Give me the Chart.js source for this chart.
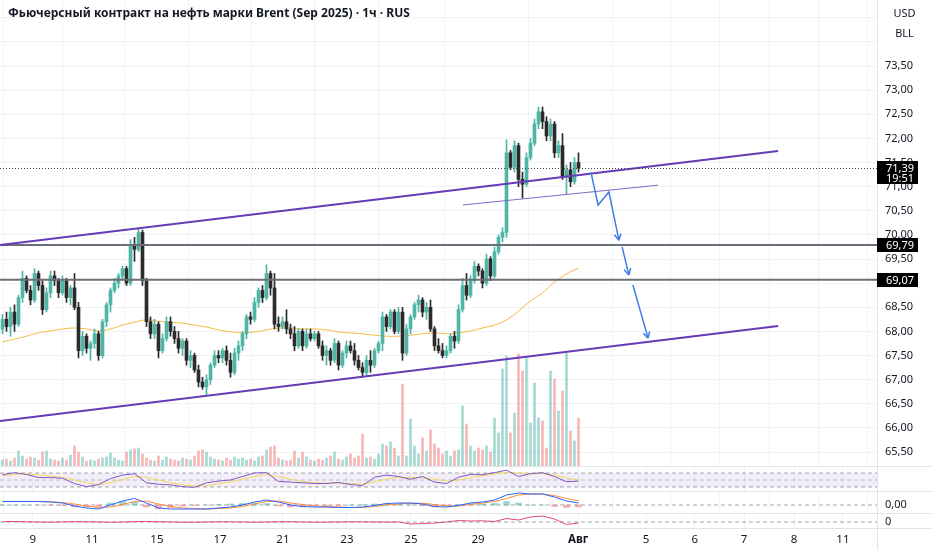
<!DOCTYPE html>
<html>
<head>
<meta charset="utf-8">
<script src="https://cdn.jsdelivr.net/npm/chart.js@4.4.1/dist/chart.umd.min.js"></script>
<style>
  body { margin: 0; background: #fff; font-family: 'Noto Sans', sans-serif; }
  #wrap { position: relative; width: 932px; height: 550px; overflow: hidden; }
  canvas { display: block; }
  .title { position: absolute; left: 8px; top: 4px; font-weight: bold; font-size: 12px; color: #131722; white-space: nowrap; }
  .cur { position: absolute; left: 877px; width: 55px; text-align: center; font-size: 11px; color: #131722; }
</style>
</head>
<body>
<div id="wrap">
  <canvas id="main" width="932" height="466"></canvas>
  <canvas id="rsi" width="932" height="25"></canvas>
  <canvas id="macd" width="932" height="22"></canvas>
  <canvas id="bottom" width="932" height="37"></canvas>
  <div class="title">Фьючерсный контракт на нефть марки Brent (Sep 2025) · 1ч · RUS</div>
  <div class="cur" style="top:5px">USD</div>
  <div class="cur" style="top:25px">BLL</div>
</div>
<script>
// свечи (по одной на бар, индекс 0..144)
const opens = [
  68.05, 68.25, 68.1, 68.4, 68.15, 68.7, 69.1, 68.85, 68.65, 69.2,
  68.95, 68.45, 68.8, 69.15, 69.05, 68.8, 69.05, 68.7, 68.9, 68.5,
  67.6, 67.9, 67.65, 67.75, 67.95, 67.5, 68.2, 68.55, 68.85, 69.0,
  69.15, 69.3, 69.0, 69.8, 69.7, 70.05, 69.05, 68.2, 67.95, 68.15,
  67.6, 67.85, 68.2, 68.0, 67.85, 67.65, 67.8, 67.4, 67.5, 67.2,
  66.95, 66.85, 67.0, 67.3, 67.5, 67.45, 67.6, 67.4, 67.15, 67.55,
  67.7, 67.95, 68.3, 68.25, 68.6, 68.85, 68.7, 69.2, 68.9, 68.15,
  68.1, 68.2, 68.05, 67.95, 67.7, 68.0, 67.7, 67.95, 67.85, 67.95,
  67.7, 67.5, 67.6, 67.4, 67.75, 67.3, 67.55, 67.7, 67.6, 67.4,
  67.25, 67.15, 67.4, 67.3, 67.6, 67.75, 68.3, 68.1, 68.4, 68.0,
  68.4, 67.55, 68.05, 68.3, 68.55, 68.65, 68.4, 68.5, 68.05, 67.7,
  67.6, 67.5, 67.6, 67.9, 67.8, 68.45, 68.95, 68.75, 69.05, 69.35,
  69.25, 69.0, 69.5, 69.15, 69.65, 69.95, 70.05, 71.7, 71.4, 71.85,
  71.15, 71.05, 71.6, 71.9, 72.3, 72.55, 72.35, 72.05, 72.3, 71.7,
  71.85, 71.2, 71.35, 71.1, 71.5
];
const highs = [
  68.35, 68.4, 68.5, 68.55, 68.75, 69.25, 69.15, 68.95, 69.3, 69.25,
  69.05, 68.9, 69.25, 69.25, 69.1, 69.15, 69.1, 68.95, 69.2, 68.6,
  68.0, 67.95, 67.8, 68.05, 68.0, 68.25, 68.6, 68.9, 69.1, 69.2,
  69.35, 69.35, 69.9, 69.95, 70.14, 70.1, 69.1, 68.3, 68.25, 68.2,
  67.95, 68.3, 68.3, 68.1, 68.0, 67.85, 67.85, 67.6, 67.55, 67.3,
  67.05, 67.1, 67.35, 67.6, 67.6, 67.65, 67.7, 67.55, 67.65, 67.8,
  68.0, 68.35, 68.4, 68.7, 68.9, 68.95, 69.38, 69.25, 69.2, 68.3,
  68.3, 68.45, 68.15, 68.1, 68.05, 68.05, 68.05, 68.05, 68.0, 68.0,
  67.8, 67.7, 67.65, 67.85, 67.8, 67.6, 67.8, 67.8, 67.75, 67.5,
  67.35, 67.5, 67.6, 67.65, 67.8, 68.4, 68.35, 68.45, 68.45, 68.5,
  68.5, 68.15, 68.35, 68.6, 68.75, 68.7, 68.6, 68.65, 68.1, 67.85,
  67.75, 67.7, 67.95, 68.0, 68.55, 69.1, 69.2, 69.15, 69.45, 69.4,
  69.3, 69.6, 69.55, 69.75, 70.0, 70.15, 71.97, 71.75, 71.95, 71.9,
  71.3, 71.7, 72.0, 72.4, 72.65, 72.65, 72.45, 72.4, 72.35, 71.95,
  72.1, 71.45, 71.5, 71.6, 71.7
];
const lows = [
  67.95, 68.0, 67.9, 68.0, 68.1, 68.6, 68.8, 68.55, 68.6, 68.85,
  68.35, 68.4, 68.7, 68.95, 68.7, 68.75, 68.6, 68.55, 68.45, 67.45,
  67.5, 67.55, 67.4, 67.65, 67.4, 67.45, 68.1, 68.4, 68.8, 68.9,
  69.05, 68.95, 68.95, 69.45, 69.65, 68.95, 68.1, 67.85, 67.85, 67.45,
  67.55, 67.8, 67.9, 67.75, 67.55, 67.5, 67.3, 67.25, 67.15, 66.85,
  66.8, 66.68, 66.9, 67.25, 67.35, 67.35, 67.3, 67.05, 67.1, 67.4,
  67.6, 67.85, 68.15, 68.2, 68.5, 68.6, 68.65, 68.75, 68.05, 68.0,
  68.05, 67.95, 67.85, 67.6, 67.65, 67.6, 67.65, 67.8, 67.8, 67.65,
  67.4, 67.3, 67.3, 67.35, 67.2, 67.25, 67.45, 67.55, 67.3, 67.2,
  67.05, 67.1, 67.15, 67.25, 67.55, 67.6, 68.0, 68.05, 67.95, 67.95,
  67.4, 67.5, 67.95, 68.25, 68.4, 68.3, 68.25, 68.0, 67.6, 67.55,
  67.45, 67.45, 67.55, 67.65, 67.75, 68.4, 68.65, 68.7, 69.0, 69.15,
  68.9, 68.95, 69.05, 69.1, 69.6, 69.85, 69.95, 71.35, 71.3, 71.0,
  70.76, 71.0, 71.55, 71.85, 72.2, 72.2, 71.95, 71.95, 71.6, 71.6,
  71.15, 70.85, 71.0, 71.05, 71.3
];
const closes = [
  68.25, 68.1, 68.4, 68.15, 68.7, 69.1, 68.85, 68.65, 69.2, 68.95,
  68.45, 68.8, 69.15, 69.05, 68.8, 69.05, 68.7, 68.9, 68.5, 67.6,
  67.9, 67.65, 67.75, 67.95, 67.5, 68.2, 68.55, 68.85, 69.0, 69.15,
  69.3, 69.0, 69.8, 69.7, 70.05, 69.05, 68.2, 67.95, 68.15, 67.6,
  67.85, 68.2, 68.0, 67.85, 67.65, 67.8, 67.4, 67.5, 67.2, 66.95,
  66.85, 67.0, 67.3, 67.5, 67.45, 67.6, 67.4, 67.15, 67.55, 67.7,
  67.95, 68.3, 68.25, 68.6, 68.85, 68.7, 69.2, 68.9, 68.15, 68.1,
  68.2, 68.05, 67.95, 67.7, 68.0, 67.7, 67.95, 67.85, 67.95, 67.7,
  67.5, 67.6, 67.4, 67.75, 67.3, 67.55, 67.7, 67.6, 67.4, 67.25,
  67.15, 67.4, 67.3, 67.6, 67.75, 68.3, 68.1, 68.4, 68.0, 68.4,
  67.55, 68.05, 68.3, 68.55, 68.65, 68.4, 68.5, 68.05, 67.7, 67.6,
  67.5, 67.6, 67.9, 67.8, 68.45, 68.95, 68.75, 69.05, 69.35, 69.25,
  69.0, 69.5, 69.15, 69.65, 69.95, 70.05, 71.7, 71.4, 71.85, 71.15,
  71.05, 71.6, 71.9, 72.3, 72.55, 72.35, 72.05, 72.3, 71.7, 71.85,
  71.2, 71.35, 71.1, 71.5, 71.39
];
const volumes = [
  6, 7, 5, 8, 15, 10, 7, 9, 8, 6,
  14, 15, 7, 6, 5, 8, 6, 11, 20, 14,
  9, 5, 6, 5, 7, 8, 9, 13, 8, 6,
  5, 14, 16, 17, 18, 12, 8, 6, 5, 10,
  6, 9, 7, 6, 5, 8, 7, 6, 10, 15,
  16, 14, 9, 7, 6, 5, 8, 6, 9, 7,
  8, 6, 7, 5, 9, 10, 16, 19, 20, 8,
  6, 5, 6, 15, 8, 14, 9, 6, 5, 7,
  6, 8, 10, 14, 7, 6, 9, 12, 8, 10,
  32, 8, 9, 7, 12, 22, 20, 24, 18, 10,
  82, 10, 47, 20, 12, 28, 15, 36, 22, 18,
  12, 15, 10, 15, 16, 60, 42, 20, 15, 18,
  16, 20, 14, 48, 33, 97, 110, 33, 53, 112,
  95, 108, 43, 83, 48, 45, 18, 95, 87, 55,
  75, 113, 35, 25, 48
];

// индикаторы: одно значение на каждые 3 бара
const IND_STEP = 3;
const maValues = [
  67.78, 67.84, 67.90, 67.97, 68.01, 68.05, 68.07, 68.05, 68.01, 68.05,
  68.13, 68.19, 68.24, 68.21, 68.19, 68.17, 68.13, 68.09, 68.03, 67.99,
  67.97, 67.99, 68.03, 68.07, 68.07, 68.05, 68.05, 68.03, 67.99, 67.97,
  67.95, 67.92, 67.90, 67.90, 67.92, 67.95, 67.97, 67.95, 67.97, 68.01,
  68.07, 68.13, 68.24, 68.42, 68.63, 68.80, 69.02, 69.19, 69.31
];
const rsiValues = [
  65, 71, 66, 57, 57, 55, 40, 31, 37, 54,
  64, 68, 42, 38, 36, 31, 29, 42, 47, 50,
  60, 70, 71, 46, 44, 42, 40, 40, 43, 37,
  34, 58, 64, 60, 52, 60, 44, 40, 58, 66,
  65, 71, 78, 60, 68, 71, 60, 45, 47
];
const rsiMaValues = [
  62, 66, 67, 65, 61, 57, 50, 42, 37, 42,
  52, 60, 58, 50, 42, 36, 33, 34, 39, 45,
  52, 60, 66, 60, 52, 46, 42, 41, 41, 40,
  38, 45, 52, 58, 57, 57, 52, 47, 50, 57,
  62, 67, 72, 70, 68, 68, 64, 56, 50
];
const macdValues = [
  0.07, 0.07, 0.07, 0.07, 0.06, 0.04, -0.02, -0.06, -0.08, 0.0,
  0.08, 0.13, 0.04, -0.06, -0.08, -0.08, -0.08, -0.08, -0.06, -0.04,
  0.0, 0.06, 0.10, 0.06, 0.0, -0.03, -0.04, -0.04, -0.05, -0.05,
  -0.04, -0.01, 0.03, 0.04, 0.04, 0.02, -0.03, -0.04, -0.01, 0.04,
  0.06, 0.10, 0.20, 0.24, 0.22, 0.22, 0.16, 0.08, 0.04
];
const signalValues = [
  0.07, 0.07, 0.07, 0.07, 0.065, 0.05, 0.02, -0.02, -0.05, -0.04,
  0.01, 0.07, 0.08, 0.02, -0.03, -0.06, -0.07, -0.08, -0.07, -0.06,
  -0.03, 0.02, 0.07, 0.08, 0.04, 0.01, -0.02, -0.03, -0.04, -0.05,
  -0.05, -0.03, 0.0, 0.02, 0.035, 0.035, 0.01, -0.02, -0.02, 0.01,
  0.04, 0.07, 0.13, 0.20, 0.22, 0.22, 0.19, 0.13, 0.08
];
const histValues = [
  0, 0, 0, 0, -0.005, -0.01, -0.04, -0.04, -0.03, 0.04,
  0.07, 0.06, -0.04, -0.08, -0.05, -0.02, -0.01, 0, 0.01, 0.02,
  0.03, 0.04, 0.03, -0.02, -0.04, -0.04, -0.02, -0.01, -0.01, 0,
  0.01, 0.02, 0.03, 0.02, 0.005, -0.015, -0.04, -0.02, 0.01, 0.03,
  0.02, 0.03, 0.07, 0.04, 0, 0, -0.03, -0.05, -0.04
];
const flowValues = [
  0.3, 0.5, 0.2, 0, -0.2, 0.1, 0.4, 0.2, 0, -0.3,
  0, 0.3, 0.5, 0.2, 0, -0.2, -0.3, 0, 0.2, 0.1,
  0, -0.2, 0, 0.2, 0.3, 0, -0.2, -0.1, 0, 0.2,
  0.1, 0, -0.1, 0, -2, -1.5, -1, 0, 1.5, 1,
  1.2, 0.5, 3.5, 2, 5, 6, 3, -2.5, -1
];

// шкалы
const priceTicks = [65.5, 66, 66.5, 67, 67.5, 68, 68.5, 69, 69.5, 70, 70.5, 71, 71.5, 72, 72.5, 73, 73.5, 74, 74.5];
const dayLabels = ['9', '11', '15', '17', '21', '23', '25', '29', 'Авг', '5', '6', '7', '8', '11'];
const dayPositions = [7.6, 22.4, 38.6, 54.4, 70.1, 86.1, 102.1, 118.9, 143.9, 160.9, 173.1, 185.4, 197.9, 210.1];

// уровни и рисунки (бар, цена)
const levels = [69.79, 69.07];
const lastPrice = 71.39;
const countdown = '19:51';
const upperChannel = [[-0.625, 69.79], [193.9, 71.74]];
const lowerChannel = [[-0.625, 66.14], [193.9, 68.11]];
const innerLine = [[115.1, 70.62], [163.9, 71.03]];
const arrowPath1 = [[147.1, 71.30], [148.9, 70.62], [151.6, 70.89], [154.1, 69.89]];
const arrowPath2 = [[154.9, 69.75], [156.6, 69.17]];
const arrowPath3 = [[157.6, 68.96], [161.4, 67.86]];

const FONT = "'Noto Sans', sans-serif";
const X_MIN = -0.625, X_MAX = 218.625;
const UP = '#4fb5a6', DOWN = '#2b2b2b';
const GRID = '#f1f2f5';
const DASH = '#a3a6af';

Chart.defaults.font.family = FONT;
Chart.defaults.animation = false;

const isUp = i => closes[i] >= opens[i];
const atStep = arr => arr.map((v, k) => ({ x: k * IND_STEP, y: v }));

function seg(points, color, width, order, extra) {
  return Object.assign({
    type: 'line', yAxisID: 'y', order: order,
    data: points.map(p => ({ x: p[0], y: p[1] })),
    borderColor: color, borderWidth: width, pointRadius: 0
  }, extra || {});
}

function noPad(s) {
  s.paddingTop = 0; s.paddingBottom = 0; s.paddingLeft = 0; s.paddingRight = 0;
}

function xScale(showLabels) {
  return {
    type: 'linear', min: X_MIN, max: X_MAX, offset: false,
    afterBuildTicks: s => { s.ticks = dayPositions.map(v => ({ value: v })); },
    afterFit: s => { s.height = showLabels ? 22 : 0; noPad(s); },
    ticks: {
      display: showLabels, autoSkip: false, maxRotation: 0, padding: 5, color: '#131722',
      font: c => ({ family: FONT, size: 11.5, weight: dayLabels[c.index] === 'Авг' ? 'bold' : 'normal' }),
      callback: (v, i) => dayLabels[i]
    },
    grid: { color: GRID, drawTicks: false },
    border: { display: false }
  };
}

function yScale(min, max, tickVals, label, showGrid) {
  return {
    position: 'right', min: min, max: max,
    afterBuildTicks: s => { s.ticks = tickVals.map(v => ({ value: v })); },
    afterFit: s => { s.width = 55; noPad(s); },
    ticks: { autoSkip: false, padding: 8, color: '#131722', font: { family: FONT, size: 11 }, callback: label },
    grid: { display: showGrid, color: GRID, drawTicks: false },
    border: { display: false }
  };
}

// рамки панелей и разделитель шкалы
function makeFrame(top, axisLine) {
  return {
    id: 'frame',
    afterDraw(chart) {
      const { ctx, chartArea, width, height } = chart;
      ctx.save();
      ctx.strokeStyle = '#e0e3eb';
      ctx.lineWidth = 1;
      ctx.beginPath();
      if (top) { ctx.moveTo(0, 0.5); ctx.lineTo(width, 0.5); }
      if (axisLine) { ctx.moveTo(0, chartArea.bottom + 0.5); ctx.lineTo(width, chartArea.bottom + 0.5); }
      ctx.moveTo(chartArea.right + 0.5, 0);
      ctx.lineTo(chartArea.right + 0.5, height);
      ctx.stroke();
      ctx.restore();
    }
  };
}

const priceMarks = {
  id: 'priceMarks',
  afterDatasetsDraw(chart) {
    const { ctx, chartArea } = chart;
    const y = chart.scales.y;
    ctx.save();
    const py = Math.round(y.getPixelForValue(lastPrice)) + 0.5;
    ctx.setLineDash([1, 2]);
    ctx.strokeStyle = '#444';
    ctx.lineWidth = 1;
    ctx.beginPath();
    ctx.moveTo(chartArea.left, py);
    ctx.lineTo(chartArea.right, py);
    ctx.stroke();
    ctx.setLineDash([]);
    chart.data.datasets.forEach((ds, i) => {
      if (!ds.arrow) return;
      const pts = chart.getDatasetMeta(i).data;
      const a = pts[pts.length - 2], b = pts[pts.length - 1];
      const ang = Math.atan2(b.y - a.y, b.x - a.x);
      ctx.strokeStyle = ds.borderColor;
      ctx.lineWidth = ds.borderWidth;
      ctx.beginPath();
      [-1, 1].forEach(s => {
        ctx.moveTo(b.x, b.y);
        ctx.lineTo(b.x - 7 * Math.cos(ang + s * 0.5), b.y - 7 * Math.sin(ang + s * 0.5));
      });
      ctx.stroke();
    });
    ctx.restore();
  },
  afterDraw(chart) {
    const { ctx, chartArea } = chart;
    const y = chart.scales.y;
    const left = chartArea.right;
    ctx.save();
    ctx.font = '11px ' + FONT;
    ctx.textBaseline = 'middle';
    ctx.textAlign = 'left';
    levels.forEach(l => {
      const py = Math.round(y.getPixelForValue(l));
      ctx.fillStyle = '#000';
      ctx.fillRect(left, py - 7, 41, 14);
      ctx.fillStyle = '#fff';
      ctx.fillText(l.toFixed(2).replace('.', ','), left + 9, py + 0.5);
    });
    const py = Math.round(y.getPixelForValue(lastPrice));
    ctx.fillStyle = '#000';
    ctx.fillRect(left, py - 7, 41, 23);
    ctx.fillStyle = '#fff';
    ctx.fillText(lastPrice.toFixed(2).replace('.', ','), left + 9, py + 0.5);
    ctx.fillText(countdown, left + 9, py + 10.5);
    ctx.restore();
  }
};

const baseOptions = extraScales => ({
  responsive: false, animation: false, events: [],
  layout: { padding: 0 },
  plugins: { legend: { display: false }, tooltip: { enabled: false } },
  scales: extraScales
});

// основная панель
new Chart(document.getElementById('main'), {
  type: 'bar',
  data: { datasets: [
    { type: 'bar', yAxisID: 'vol', order: 7, grouped: false, barThickness: 2,
      data: volumes.map((v, i) => ({ x: i, y: v })),
      backgroundColor: volumes.map((v, i) => isUp(i) ? 'rgba(38,166,154,0.42)' : 'rgba(239,83,80,0.42)') },
    { type: 'line', yAxisID: 'y', order: 6, data: atStep(maValues),
      borderColor: '#f5b83d', borderWidth: 1, pointRadius: 0, tension: 0.4 },
    { type: 'bar', yAxisID: 'y', order: 5, grouped: false, barThickness: 1, minBarLength: 1,
      data: highs.map((h, i) => ({ x: i, y: [lows[i], h] })),
      backgroundColor: closes.map((c, i) => isUp(i) ? UP : DOWN) },
    { type: 'bar', yAxisID: 'y', order: 4, grouped: false, barThickness: 3, minBarLength: 1,
      data: opens.map((o, i) => ({ x: i, y: [Math.min(o, closes[i]), Math.max(o, closes[i])] })),
      backgroundColor: closes.map((c, i) => isUp(i) ? UP : DOWN) },
    ...levels.map(l => seg([[X_MIN, l], [X_MAX, l]], '#6b6e78', 2, 3)),
    seg(upperChannel, '#673ab7', 2, 2),
    seg(lowerChannel, '#673ab7', 2, 2),
    seg(innerLine, '#8466c8', 1, 2),
    ...[arrowPath1, arrowPath2, arrowPath3].map(a => seg(a, '#3f7de8', 1.5, 1, { arrow: true }))
  ]},
  options: baseOptions({
    x: xScale(false),
    y: yScale(65.21, 74.868, priceTicks, v => v > 73.6 ? '' : v.toFixed(2).replace('.', ','), true),
    vol: { display: false, min: 0, max: 466 }
  }),
  plugins: [makeFrame(false, false), priceMarks]
});

// RSI
new Chart(document.getElementById('rsi'), {
  type: 'line',
  data: { datasets: [
    seg([[X_MIN, 70], [X_MAX, 70]], DASH, 1, 5, { borderDash: [4, 3], fill: '+1', backgroundColor: 'rgba(126,87,194,0.1)' }),
    seg([[X_MIN, 30], [X_MAX, 30]], DASH, 1, 5, { borderDash: [4, 3] }),
    seg([[X_MIN, 50], [X_MAX, 50]], '#c4c6cc', 1, 5, { borderDash: [4, 3] }),
    { type: 'line', yAxisID: 'y', order: 2, data: atStep(rsiMaValues), borderColor: '#f3d55b', borderWidth: 1, pointRadius: 0 },
    { type: 'line', yAxisID: 'y', order: 1, data: atStep(rsiValues), borderColor: '#7e57c2', borderWidth: 1, pointRadius: 0 }
  ]},
  options: baseOptions({ x: xScale(false), y: yScale(18.6, 90, [], () => '', false) }),
  plugins: [makeFrame(true, false)]
});

// MACD
new Chart(document.getElementById('macd'), {
  type: 'bar',
  data: { datasets: [
    seg([[X_MIN, 0], [X_MAX, 0]], DASH, 1, 5, { borderDash: [4, 3] }),
    { type: 'bar', yAxisID: 'y', order: 4, grouped: false, barThickness: 6,
      data: atStep(histValues),
      backgroundColor: histValues.map(v => v >= 0 ? 'rgba(38,166,154,0.45)' : 'rgba(239,83,80,0.45)') },
    { type: 'line', yAxisID: 'y', order: 2, data: atStep(signalValues), borderColor: '#ff8a3d', borderWidth: 1, pointRadius: 0 },
    { type: 'line', yAxisID: 'y', order: 1, data: atStep(macdValues), borderColor: '#2962ff', borderWidth: 1, pointRadius: 0 }
  ]},
  options: baseOptions({ x: xScale(false), y: yScale(-0.16, 0.28, [0], () => '0,00', false) }),
  plugins: [makeFrame(true, false)]
});

// нижняя панель и ось времени
new Chart(document.getElementById('bottom'), {
  type: 'line',
  data: { datasets: [
    seg([[X_MIN, 0], [X_MAX, 0]], DASH, 1, 5, { borderDash: [4, 3] }),
    { type: 'line', yAxisID: 'y', order: 1, data: atStep(flowValues), borderColor: '#e0457b', borderWidth: 1, pointRadius: 0 }
  ]},
  options: baseOptions({ x: xScale(true), y: yScale(-6, 9, [0], () => '0', false) }),
  plugins: [makeFrame(true, true)]
});
</script>
</body>
</html>
